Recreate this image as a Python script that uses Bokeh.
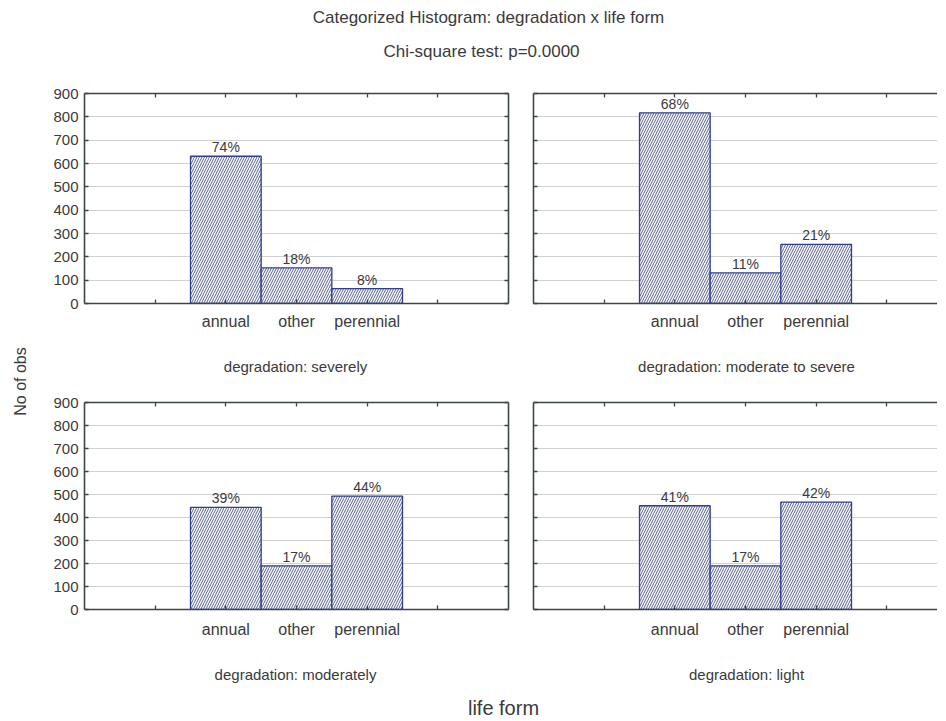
import math
from bokeh.plotting import figure
from bokeh.models import ColumnDataSource, LabelSet, Label, LinearAxis, FixedTicker, Range1d
from bokeh.core.properties import value
from bokeh.layouts import column, row
from bokeh.embed import file_html
from bokeh.resources import INLINE

# ---------------- data ----------------
life_forms = ["annual", "other", "perennial"]
panel_titles = [
    "degradation: severely",
    "degradation: moderate to severe",
    "degradation: moderately",
    "degradation: light",
]
severely = [631, 153, 64]
moderate_to_severe = [817, 131, 253]
moderately = [444, 190, 493]
light = [451, 190, 467]
y_ticks = [0, 100, 200, 300, 400, 500, 600, 700, 800, 900]

main_title = "Categorized Histogram: degradation x life form"
sub_title = "Chi-square test: p=0.0000"
y_label = "No of obs"
x_label = "life form"

# ---------------- style ----------------
FONT = "Liberation Sans"
TEXT = "#3a3a3a"
AXIS = "#3c4646"
GRID = "#d0d0d0"
BAR_LINE = "#2e3d8f"
HATCH = "#55608f"


def style_axis(ax, ticks, labels=True):
    ax.axis_line_color = AXIS
    ax.axis_line_width = 1.6
    ax.major_tick_line_color = AXIS
    ax.major_tick_line_width = 1.3
    ax.major_tick_in = 4
    ax.major_tick_out = 0
    ax.minor_tick_line_color = None
    ax.major_label_text_font = FONT
    ax.major_label_text_color = TEXT
    ax.major_label_text_font_size = "15px"
    if not labels:
        ax.major_label_text_font_size = "12px"
        ax.major_label_overrides = {t: "" for t in ticks}
        ax.major_label_standoff = 0


def make_panel(values, is_left, is_top):
    w = 485 if is_left else 418
    h = 276 if is_top else 271
    frame_w = 424 if is_left else 404
    n_slots = len(life_forms) + 3          # empty slot either side of the bars
    x_end = n_slots * frame_w / 424.0
    p = figure(width=w, height=h, x_range=Range1d(0, x_end), y_range=Range1d(0, 900),
               output_backend="svg", toolbar_location=None, tools="")
    p.min_border_left = 50 if is_left else 14
    p.min_border_right = 11 if is_left else 0
    p.min_border_top = 20 if is_top else 19
    p.min_border_bottom = 46 if is_top else 45
    p.outline_line_color = None
    p.background_fill_color = "white"
    p.border_fill_color = "white"

    x_ticks = [i + 1 for i in range(len(life_forms) + 2)]
    overrides = {t: "" for t in x_ticks}
    x_pos = []
    for i, name in enumerate(life_forms):
        overrides[i + 2] = name
        x_pos.append(i + 2)

    # bottom axis
    xa = p.xaxis[0]
    xa.ticker = FixedTicker(ticks=x_ticks)
    style_axis(xa, x_ticks)
    xa.major_label_overrides = overrides
    xa.major_label_text_font_size = "16px"
    xa.major_label_standoff = 9 if is_top else 11

    # left axis
    ya = p.yaxis[0]
    ya.ticker = FixedTicker(ticks=y_ticks)
    style_axis(ya, y_ticks, labels=is_left)
    if is_left:
        ya.major_label_standoff = 6

    # top axis (ticks only)
    ta = LinearAxis(ticker=FixedTicker(ticks=x_ticks))
    style_axis(ta, x_ticks, labels=False)
    p.add_layout(ta, "above")

    if is_left:
        ra = LinearAxis(ticker=FixedTicker(ticks=y_ticks))
        style_axis(ra, y_ticks, labels=False)
        p.add_layout(ra, "right")

    p.xgrid.visible = False
    p.ygrid.ticker = FixedTicker(ticks=y_ticks)
    p.ygrid.grid_line_color = GRID
    p.ygrid.grid_line_width = 1.2

    total = sum(values)
    pct = ["%d%%" % round(100.0 * v / total) for v in values]
    src = ColumnDataSource(dict(x=x_pos, top=values, pct=pct))
    p.vbar(x="x", top="top", width=1.0, bottom=0, source=src,
           fill_color="white", line_color=BAR_LINE, line_width=1.3,
           hatch_pattern="/", hatch_color=HATCH, hatch_scale=5, hatch_weight=1)
    labels = LabelSet(x="x", y="top", text="pct", source=src, y_offset=1,
                      text_align="center", text_baseline="bottom",
                      text_font=value(FONT), text_font_size=value("14px"),
                      text_color=TEXT)
    p.add_layout(labels)
    return p


def text_fig(w, h):
    f = figure(width=w, height=h, x_range=Range1d(0, 1), y_range=Range1d(0, 1),
               output_backend="svg", toolbar_location=None, tools="",
               x_axis_location=None, y_axis_location=None)
    f.min_border = 0
    f.outline_line_color = None
    f.xgrid.visible = False
    f.ygrid.visible = False
    f.border_fill_color = "white"
    return f


def caption(text, is_left, is_top):
    w = 485 if is_left else 418
    h = 34 if is_top else 33
    f = text_fig(w, h)
    f.add_layout(Label(x=261 if is_left else 227, y=17 if is_top else 13,
                       x_units="screen", y_units="screen", text=text,
                       text_align="center", text_baseline="middle", text_font=FONT,
                       text_font_size="15px", text_color=TEXT))
    return f


header = text_fig(937, 73)
header.add_layout(Label(x=488, y=56, x_units="screen", y_units="screen", text=main_title,
                        text_align="center", text_baseline="middle", text_font=FONT,
                        text_font_size="17px", text_color=TEXT))
header.add_layout(Label(x=481, y=22, x_units="screen", y_units="screen", text=sub_title,
                        text_align="center", text_baseline="middle", text_font=FONT,
                        text_font_size="17px", text_color=TEXT))

ylab = text_fig(34, 614)
ylab.add_layout(Label(x=20, y=306, x_units="screen", y_units="screen", text=y_label,
                      angle=math.pi / 2, text_align="center", text_baseline="middle",
                      text_font=FONT, text_font_size="16px", text_color=TEXT))

footer = text_fig(937, 30)
footer.add_layout(Label(x=503, y=10, x_units="screen", y_units="screen", text=x_label,
                        text_align="center", text_baseline="middle", text_font=FONT,
                        text_font_size="20px", text_color=TEXT))

p1 = make_panel(severely, True, True)
p2 = make_panel(moderate_to_severe, False, True)
p3 = make_panel(moderately, True, False)
p4 = make_panel(light, False, False)
c1 = caption(panel_titles[0], True, True)
c2 = caption(panel_titles[1], False, True)
c3 = caption(panel_titles[2], True, False)
c4 = caption(panel_titles[3], False, False)

grid = column(row(p1, p2), row(c1, c2), row(p3, p4), row(c3, c4))
layout = column(header, row(ylab, grid), footer)

open("out.html", "w").write(file_html(layout, INLINE))
